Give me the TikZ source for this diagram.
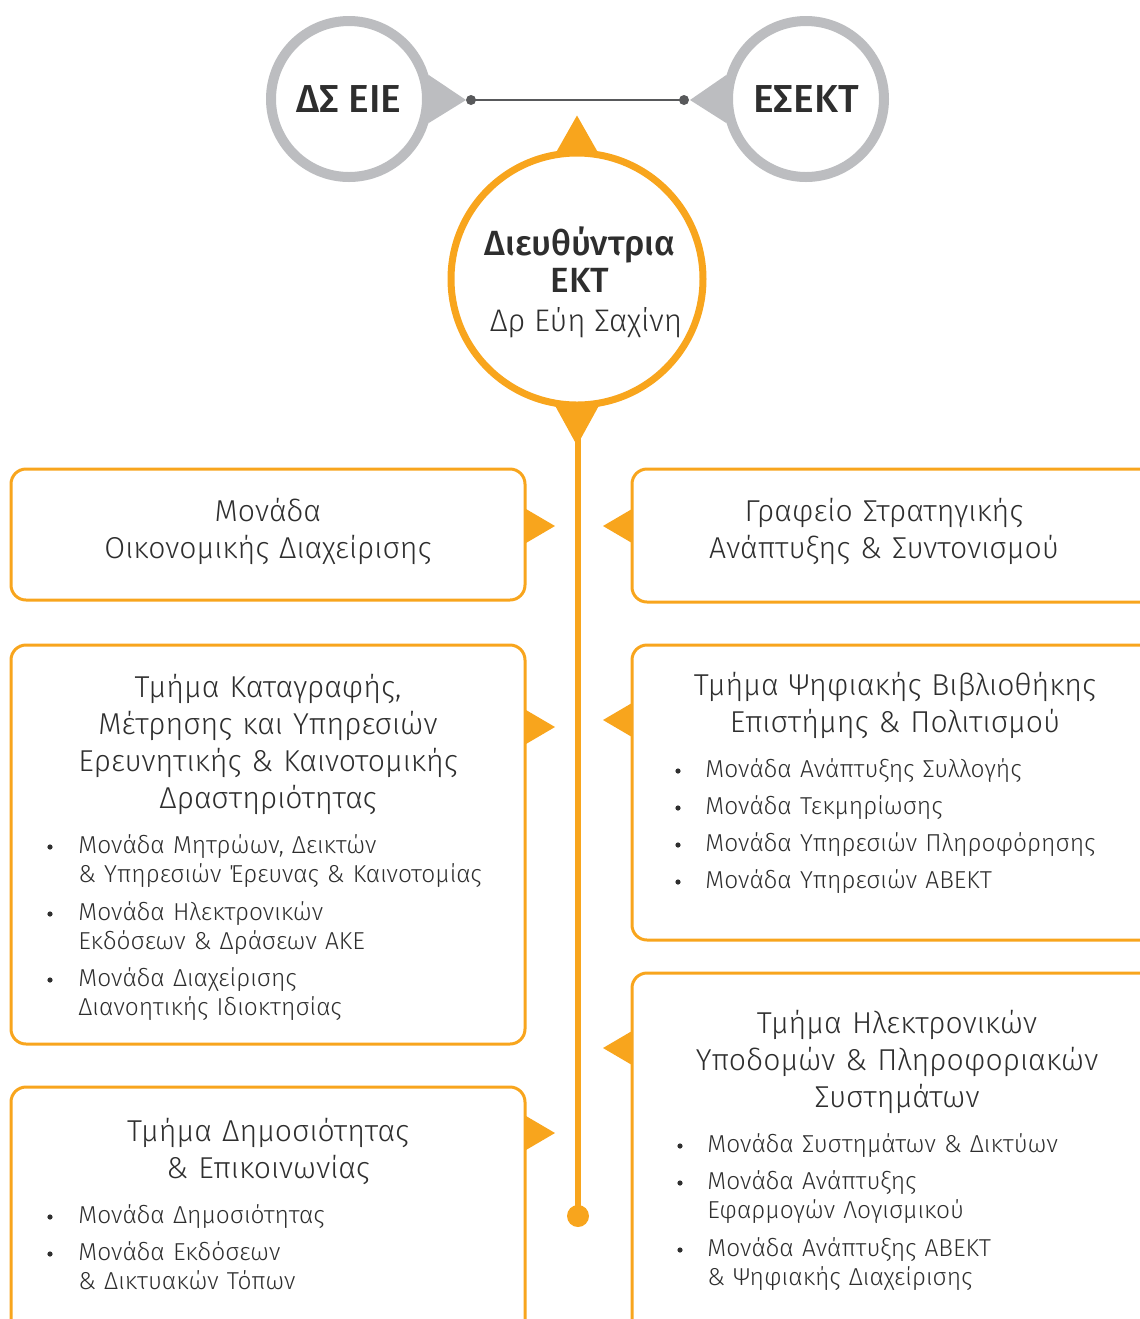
\documentclass[tikz,border=0pt]{standalone}
\usepackage{fontspec}
\IfFontExistsTF{Fira Sans Light}
  {\setmainfont{Fira Sans}[UprightFont=* Light, BoldFont=* Bold]}
  {\setmainfont{Fira Sans}}
\IfFontExistsTF{Fira Sans Medium}
  {\newfontfamily\ekmedium{Fira Sans Medium}}
  {\newcommand{\ekmedium}{\bfseries}}
\usetikzlibrary{calc}
\definecolor{ekorange}{HTML}{F8A51D}
\definecolor{ekgrey}{HTML}{BCBDC0}
\definecolor{ekdark}{HTML}{58595B}
\definecolor{ektext}{HTML}{2E2E2E}
\tikzset{
  unitbox/.style={draw=ekorange, line width=1.5pt, rounded corners=7.5pt},
  boardcircle/.style={circle, draw=ekgrey, line width=5pt, minimum size=78pt,
    inner sep=0pt, text=ektext, font=\fontsize{19.5}{20}\selectfont\ekmedium},
  dircircle/.style={circle, draw=ekorange, line width=3.5pt, fill=white,
    minimum size=126pt, inner sep=0pt},
  dirtext/.style={text=ektext, align=center, inner sep=0pt,
    font=\fontsize{17.5}{18.5}\selectfont\ekmedium},
  headtext/.style={text=ektext, text width=250pt, align=center, inner sep=0pt,
    anchor=base, font=\fontsize{15.1}{18.5}\selectfont},
  itemtext/.style={text=ektext, text width=240pt, align=left, inner sep=0pt,
    anchor=base west, font=\fontsize{12.25}{14.75}\selectfont},
}
\newcommand{\ptright}[2]{\fill[ekorange] (#1,#2-17) -- (#1+29,#2) -- (#1,#2+17) -- cycle;}
\newcommand{\ptleft}[2]{\fill[ekorange] (#1,#2-17) -- (#1-29,#2) -- (#1,#2+17) -- cycle;}
\begin{document}
\begin{tikzpicture}[x=0.5pt,y=-0.5pt]
	\useasboundingbox (0,0) rectangle (1140,1319);
	\clip (0,0) rectangle (1140,1319);
	% board and council
	\node[boardcircle] (dseie) at (349,99) {ΔΣ ΕΙΕ};
	\node[boardcircle] (esekt) at (806,99) {ΕΣΕΚΤ};
	\fill[ekgrey] (dseie.17) -- (466,100) -- (dseie.-17) -- cycle;
	\fill[ekgrey] (esekt.163) -- (690,100) -- (esekt.197) -- cycle;
	\coordinate (dotl) at (471,100);
	\coordinate (dotr) at (684,100);
	\draw[ekdark, line width=1pt] (dotl) -- (dotr);
	\fill[ekdark] (dotl) circle (2.5pt) (dotr) circle (2.5pt);
	% director
	\coordinate (lineend) at (578,1216);
	\draw[ekorange, line width=3pt] (578,430) -- (lineend);
	\fill[ekorange] (lineend) circle (5.5pt);
	\node[dircircle] (dir) at (577,279) {};
	\node[dirtext] (dirname) at (580,282)
		{Διευθύντρια\\ΕΚΤ\\[1pt]{\fontsize{15.6}{18.5}\selectfont\rmfamily\hspace{6pt}Δρ Εύη Σαχίνη}};
	\fill[ekorange] ($(dir.north)+(-21,3)$) -- ($(dir.north)+(0,-34)$)
		-- ($(dir.north)+(21,3)$) -- cycle;
	\fill[ekorange] ($(dir.south)+(-22,-3)$) -- ($(dir.south)+(0,37)$)
		-- ($(dir.south)+(22,-3)$) -- cycle;
	% left column
	\draw[unitbox] (11,469) rectangle (525,600);
	\draw[unitbox] (11,645) rectangle (525,1044);
	\draw[unitbox] (11,1087) rectangle (525,1360);
	\ptright{526}{526}
	\ptright{526}{727}
	\ptright{526}{1133}
	% right column
	\draw[unitbox] (632,469) rectangle (1160,602);
	\draw[unitbox] (632,645) rectangle (1160,940);
	\draw[unitbox] (632,973) rectangle (1160,1360);
	\ptleft{632}{526}
	\ptleft{632}{720}
	\ptleft{632}{1048}
	% headings
	\node[headtext] (hfin) at (268,521) {Μονάδα\\Οικονομικής Διαχείρισης};
	\node[headtext] (hstrat) at (884,521) {Γραφείο Στρατηγικής\\Ανάπτυξης \& Συντονισμού};
	\node[headtext] (hreg) at (268,697)
		{Τμήμα Καταγραφής,\\Μέτρησης και Υπηρεσιών\\Ερευνητικής \& Καινοτομικής\\Δραστηριότητας};
	\node[headtext] (hlib) at (895,695) {Τμήμα Ψηφιακής Βιβλιοθήκης\\Επιστήμης \& Πολιτισμού};
	\node[headtext] (hinfra) at (897,1033)
		{Τμήμα Ηλεκτρονικών\\Υποδομών \& Πληροφοριακών\\Συστημάτων};
	\node[headtext] (hpub) at (268,1141) {Τμήμα Δημοσιότητας\\\& Επικοινωνίας};
	% units
	\foreach \yy/\txt [count=\i] in {853/{Μονάδα Μητρώων, Δεικτών\\\& Υπηρεσιών Έρευνας \& Καινοτομίας},
		920/{Μονάδα Ηλεκτρονικών\\Εκδόσεων \& Δράσεων ΑΚΕ},
		986/{Μονάδα Διαχείρισης\\Διανοητικής Ιδιοκτησίας}}{
		\node[itemtext] (reg\i) at (78,\yy) {\txt};
		\fill[ektext] (50,\yy-6) circle (1.3pt);
	}
	\foreach \yy/\txt [count=\i] in {777/{Μονάδα Ανάπτυξης Συλλογής},
		814/{Μονάδα Τεκμηρίωσης},
		851/{Μονάδα Υπηρεσιών Πληροφόρησης},
		888/{Μονάδα Υπηρεσιών ΑΒΕΚΤ}}{
		\node[itemtext] (lib\i) at (705,\yy) {\txt};
		\fill[ektext] (678,\yy-6) circle (1.3pt);
	}
	\foreach \yy/\txt [count=\i] in {1152/{Μονάδα Συστημάτων \& Δικτύων},
		1189/{Μονάδα Ανάπτυξης\\Εφαρμογών Λογισμικού},
		1256/{Μονάδα Ανάπτυξης ΑΒΕΚΤ\\\& Ψηφιακής Διαχείρισης}}{
		\node[itemtext] (infra\i) at (707,\yy) {\txt};
		\fill[ektext] (680,\yy-6) circle (1.3pt);
	}
	\foreach \yy/\txt [count=\i] in {1223/{Μονάδα Δημοσιότητας},
		1260/{Μονάδα Εκδόσεων\\\& Δικτυακών Τόπων}}{
		\node[itemtext] (pub\i) at (78,\yy) {\txt};
		\fill[ektext] (50,\yy-6) circle (1.3pt);
	}
\end{tikzpicture}
\end{document}
